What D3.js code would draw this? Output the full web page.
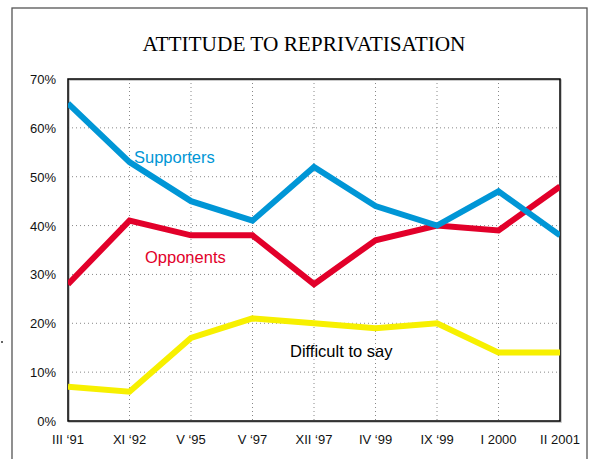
<!DOCTYPE html>
<html><head><meta charset="utf-8">
<script src="https://cdn.jsdelivr.net/npm/d3@7"></script>
<style>body{margin:0;background:#fff}svg{display:block}</style>
</head><body>
<svg id="c" width="594" height="459"></svg>
<script>
const categories = ["III \u201891","XI \u201892","V \u201895","V \u201897","XII \u201897","IV \u201899","IX \u201899","I 2000","II 2001"];
const supporters = [65,53,45,41,52,44,40,47,38];
const opponents  = [28,41,38,38,28,37,40,39,48];
const difficult  = [7,6,17,21,20,19,20,14,14];
const yTicks = [0,10,20,30,40,50,60,70];

const svg = d3.select("#c");
const L=68,R=560,T=79,B=421;
const x = d3.scalePoint().domain(categories).range([L,R]);
const y = d3.scaleLinear().domain([0,70]).range([B,T]);

// outer frame
svg.append("rect").attr("x",12).attr("y",8).attr("width",575).attr("height",460)
  .attr("fill","none").attr("stroke","#555").attr("stroke-width",1.3);
svg.append("circle").attr("cx",2).attr("cy",342).attr("r",1).attr("fill","#333");

svg.append("text").attr("x",304).attr("y",51).attr("text-anchor","middle")
  .attr("font-family","Liberation Serif, Times New Roman, serif").attr("font-size",21.3)
  .text("ATTITUDE TO REPRIVATISATION");

// grid
const g = svg.append("g");
g.selectAll(".hg").data(yTicks.filter(d=>d>0&&d<70)).join("line")
  .attr("x1",L).attr("x2",R).attr("y1",d=>y(d)).attr("y2",d=>y(d))
  .attr("stroke","#888").attr("stroke-width",1).attr("stroke-dasharray","1,3");
g.selectAll(".vg").data(categories.slice(1,-1)).join("line")
  .attr("y1",T).attr("y2",B).attr("x1",d=>x(d)).attr("x2",d=>x(d))
  .attr("stroke","#888").attr("stroke-width",1).attr("stroke-dasharray","1,3");

// plot frame
svg.append("rect").attr("x",L+1).attr("y",T+1).attr("width",R-L).attr("height",B-T)
  .attr("fill","none").attr("stroke","#bbb").attr("stroke-width",1.5);
svg.append("rect").attr("x",L).attr("y",T).attr("width",R-L).attr("height",B-T)
  .attr("fill","none").attr("stroke","#000").attr("stroke-width",1.5);

// axes labels
svg.append("g").selectAll("text").data(yTicks).join("text")
  .attr("x",56).attr("y",d=>y(d)+5).attr("text-anchor","end")
  .attr("font-family","Liberation Sans, Arial, sans-serif").attr("font-size",13)
  .attr("fill","#111").text(d=>d+"%");
svg.append("g").selectAll("text").data(categories).join("text")
  .attr("x",d=>x(d)).attr("y",444).attr("text-anchor","middle")
  .attr("font-family","Liberation Sans, Arial, sans-serif").attr("font-size",13)
  .attr("fill","#111").text(d=>d);

// lines
const line = d3.line().x((d,i)=>x(categories[i])).y(d=>y(d));
const clip = svg.append("clipPath").attr("id","cp").append("rect")
  .attr("x",L).attr("y",T-5).attr("width",R-L).attr("height",B-T+5);
[[difficult,"#f7f000"],[opponents,"#e2002a"],[supporters,"#0096d6"]].forEach(([d,c])=>{
  svg.append("path").datum(d).attr("d",line).attr("fill","none").attr("stroke",c)
    .attr("stroke-width",6).attr("stroke-linejoin","miter").attr("clip-path","url(#cp)");
});

const lab = [["Supporters",134,163,"#0096d6"],["Opponents",145,263,"#e2002a"],["Difficult to say",290,357,"#000"]];
svg.append("g").selectAll("text").data(lab).join("text")
  .attr("x",d=>d[1]).attr("y",d=>d[2]).attr("fill",d=>d[3])
  .attr("font-family","Liberation Sans, Arial, sans-serif").attr("font-size",16.5)
  .text(d=>d[0]);
</script>
</body></html>
